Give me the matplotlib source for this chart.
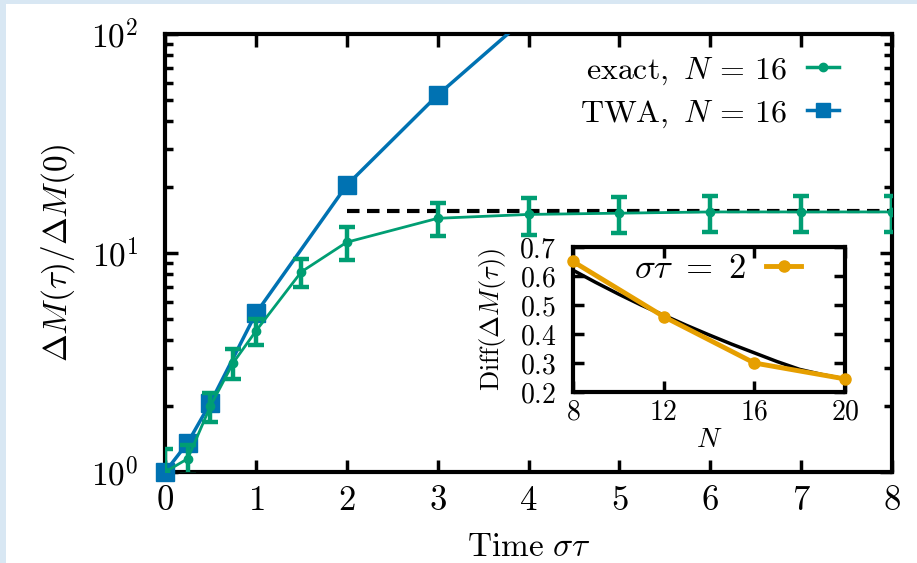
import math
import numpy as np
import matplotlib
matplotlib.use("Agg")
import matplotlib.pyplot as plt
from matplotlib.ticker import FuncFormatter, LogLocator, MultipleLocator, FixedLocator
from matplotlib.patches import Rectangle
from matplotlib.lines import Line2D

plt.rcParams['mathtext.fontset'] = 'cm'
plt.rcParams['font.family'] = 'DejaVu Serif'

# ---- data ----
t_exact = [0, 0.25, 0.5, 0.75, 1, 1.5, 2, 3, 4, 5, 6, 7, 8]
m_exact = [1.0, 1.15, 2.0, 3.15, 4.4, 8.2, 11.2, 14.4, 15.0, 15.2, 15.4, 15.4, 15.4]
e_exact = [0.28, 0.18, 0.3, 0.5, 0.6, 1.2, 1.9, 2.5, 2.9, 2.9, 2.9, 2.9, 2.9]

t_twa = [0, 0.25, 0.5, 1, 2, 3, 4]
m_twa = [1.0, 1.36, 2.07, 5.3, 20.4, 52.6, 121.0]

t_sat = [2, 8]
m_sat = [15.6, 15.6]

n_inset = [8, 12, 16, 20]
diff_inset = [0.65, 0.46, 0.30, 0.245]
n_fit = [8, 9, 10, 11, 12, 13, 14, 15, 16, 17, 18, 19, 20]
diff_fit = [0.62, 0.578, 0.538, 0.50, 0.465, 0.43, 0.397, 0.365, 0.335, 0.305, 0.278, 0.26, 0.245]

GREEN = '#009E73'
BLUE = '#0072B2'
ORANGE = '#E69F00'

fig = plt.figure(figsize=(9.17, 5.63), dpi=100)
fig.patch.set_facecolor('#d8e7f3')
fig.patches.append(Rectangle((6/917, 0), 1, 1 - 4/563, transform=fig.transFigure,
                             facecolor='white', edgecolor='none', zorder=-5))

ax = fig.add_axes([165/917, 1 - 472/563, (892-165)/917, (472-34)/563])
ax.set_facecolor('white')

ymax = 100
tw_t = np.array(t_twa)
tw_m = np.array(m_twa)
inside = tw_m <= ymax
ax.plot(tw_t, tw_m, color=BLUE, lw=2.5, zorder=3)
ax.plot(tw_t[inside], tw_m[inside], ls='none', color=BLUE, marker='s', ms=12.5,
        zorder=3, clip_on=False)
ax.plot(t_sat, m_sat, color='black', lw=3, ls=(0, (3.0, 1.8)), zorder=2)
ax.errorbar(t_exact, m_exact, yerr=e_exact, color=GREEN, lw=2, marker='o', ms=6,
            elinewidth=3.2, capsize=6, capthick=3.2, zorder=4)

ax.set_xlim(0, 8)
ax.set_yscale('log')
ax.set_ylim(1, ymax)
ax.xaxis.set_major_locator(MultipleLocator(1))
ax.yaxis.set_major_locator(LogLocator(base=10, numticks=5))
ax.yaxis.set_minor_locator(LogLocator(base=10, subs=range(2, 10), numticks=20))
ax.yaxis.set_major_formatter(FuncFormatter(lambda v, p: r'$10^{%d}$' % round(math.log10(v))))
ax.yaxis.set_minor_formatter(FuncFormatter(lambda v, p: ''))
ax.xaxis.set_major_formatter(FuncFormatter(lambda v, p: r'$%d$' % v))
ax.tick_params(which='both', direction='in', top=True, right=True, width=2.5)
ax.tick_params(axis='x', pad=8, labelsize=25)
ax.tick_params(axis='y', pad=19, labelsize=24)
ax.tick_params(which='major', length=9)
ax.tick_params(which='minor', length=6)
for s in ax.spines.values():
    s.set_linewidth(3)
ax.set_xlabel(r'$\mathrm{Time}\ \sigma\tau$', fontsize=24, labelpad=10)
ax.set_ylabel(r'$\Delta M(\tau)/\Delta M(0)$', fontsize=24, labelpad=10)

h_exact = Line2D([], [], color=GREEN, lw=2.5, marker='o', ms=6)
h_twa = Line2D([], [], color=BLUE, lw=2.5, marker='s', ms=10)
ax.legend([h_exact, h_twa], [r'$\mathrm{exact},\ N\,=\,16$', r'$\mathrm{TWA},\ N\,=\,16$'],
          loc='upper right', frameon=False, markerfirst=False,
          fontsize=23, handlelength=1.0, handletextpad=0.6,
          borderaxespad=0.0, labelspacing=0.33, bbox_to_anchor=(0.944, 0.982))

# ---- inset ----
ins = fig.add_axes([573/917, 1 - 392/563, (845-573)/917, (392-247)/563])
ins.plot(n_fit, diff_fit, color='black', lw=2.5, zorder=2)
ins.plot(n_inset, diff_inset, color=ORANGE, lw=3.5, marker='o', ms=8, clip_on=False, zorder=3)
ins.set_xlim(8, 20)
ins.set_ylim(0.2, 0.7)
ins.xaxis.set_major_locator(FixedLocator([8, 12, 16, 20]))
ins.yaxis.set_major_locator(MultipleLocator(0.1))
ins.xaxis.set_major_formatter(FuncFormatter(lambda v, p: r'$%d$' % v))
ins.yaxis.set_major_formatter(FuncFormatter(lambda v, p: r'$%.1f$' % v))
ins.tick_params(direction='in', top=True, right=True, width=2.5, length=8, labelsize=20)
ins.tick_params(axis='x', pad=5)
ins.tick_params(axis='y', pad=12)
for s in ins.spines.values():
    s.set_linewidth(3)
ins.set_xlabel(r'$N$', fontsize=20, labelpad=0)
ins.set_ylabel(r'$\mathrm{Diff}(\Delta M(\tau))$', fontsize=19, labelpad=8)
h_ins = Line2D([], [], color=ORANGE, lw=3.5, marker='o', ms=8)
ins.legend([h_ins], [r'$\sigma\tau\ =\ 2$'], loc='upper right', frameon=False, markerfirst=False,
           fontsize=25, handlelength=1.0, handletextpad=0.6, borderaxespad=0.0,
           bbox_to_anchor=(0.89, 1.07))

fig.savefig('out.png', dpi=100, facecolor=fig.get_facecolor())
